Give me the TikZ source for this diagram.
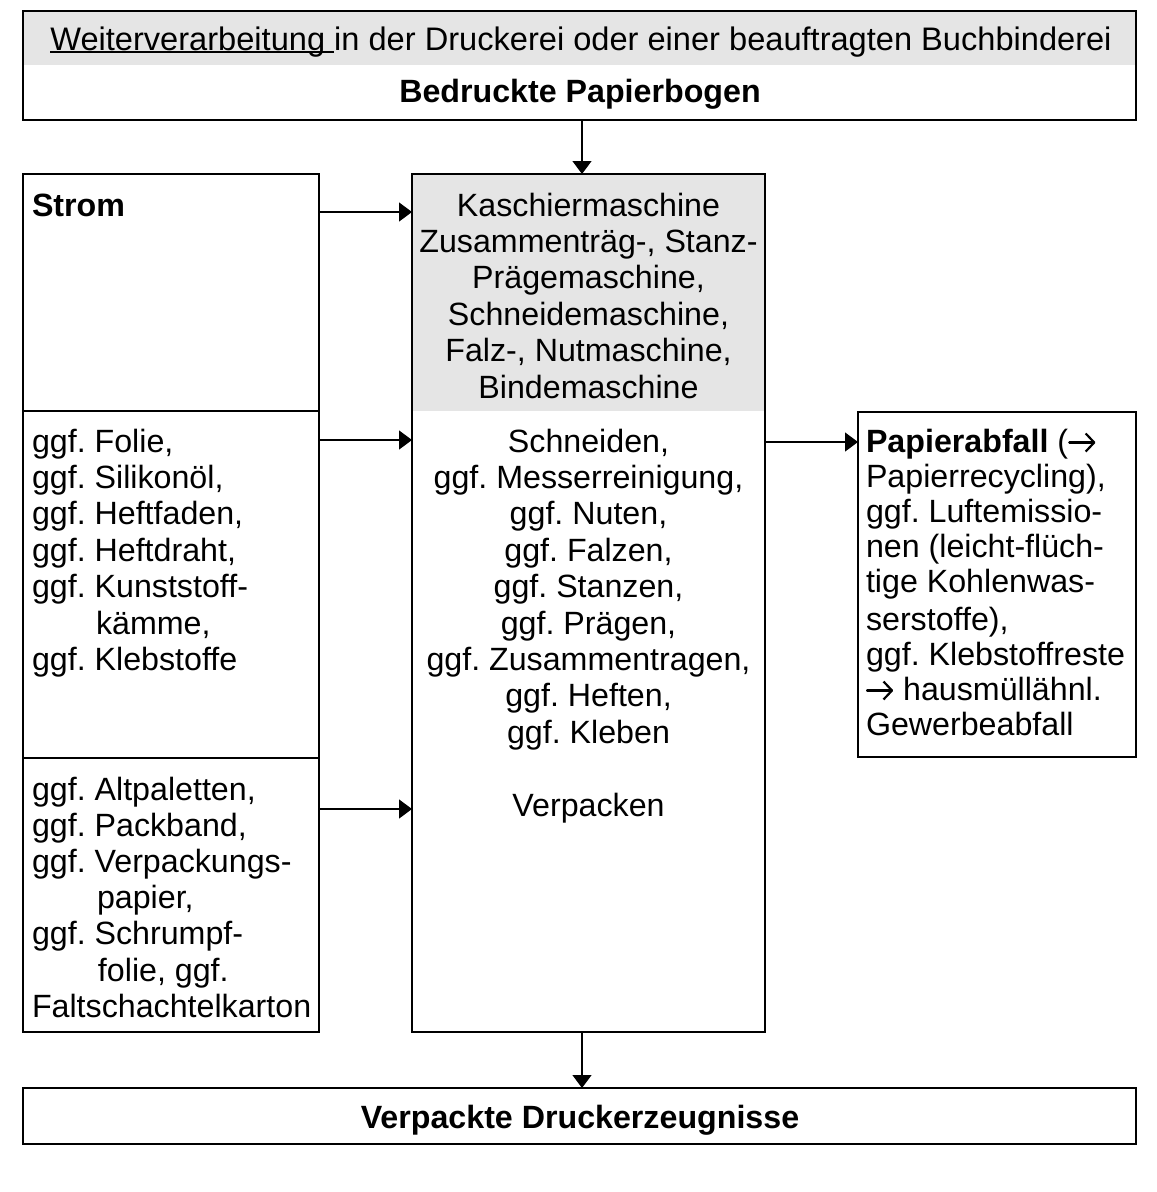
\documentclass[tikz,border=0pt]{standalone}
\usepackage{fontspec}
\setmainfont{Liberation Sans}
\usetikzlibrary{arrows.meta}
\definecolor{band}{gray}{0.898}
\newsavebox\leadword
% small inline arrow used inside the waste text
\newcommand\toarrow{\tikz[baseline=0pt]\draw[line width=2.2pt, line cap=round, -{Straight Barb[length=8.5pt,width=18pt,line join=round]}] (1pt,9.5pt) -- (27pt,9.5pt);}

\begin{document}
\frenchspacing
\begin{tikzpicture}[x=1pt,y=-1pt,
  box/.style={draw=black, line width=2.8pt, inner sep=0pt, outer sep=0pt, anchor=north west},
  shaded/.style={path picture={\fill[band] (path picture bounding box.north west) rectangle ([yshift=-#1]path picture bounding box.north east);}},
  flow/.style={line width=1.3pt, -{Triangle[length=13pt,width=19pt]}},
  txt/.style={inner sep=0pt, outer sep=0pt, font=\fontsize{32.2}{36.4}\selectfont},
  txtb/.style={txt, font=\fontsize{32.2}{36.4}\selectfont\bfseries},
]
\useasboundingbox (0,0) rectangle (1157,1192);
\fill[white] (0,0) rectangle (1157,1192);

% boxes
\node[box, shaded=54pt, minimum width=1113pt, minimum height=109pt] (top) at (23,11) {};
\node[box, minimum width=296pt, minimum height=237pt] (strom) at (23,174) {};
\node[box, minimum width=296pt, minimum height=347pt] (mat) at (23,411) {};
\node[box, minimum width=296pt, minimum height=274pt] (pack) at (23,758) {};
\node[box, shaded=237pt, minimum width=353pt, minimum height=858pt] (mid) at (412,174) {};
\node[box, minimum width=278pt, minimum height=345pt] (waste) at (858,412) {};
\node[box, minimum width=1113pt, minimum height=56pt] (out) at (23,1088) {};

% texts
\node[txt, anchor=base, font=\fontsize{32.6}{36.4}\selectfont] (head) at (581,50)
  {\sbox\leadword{Weiterverarbeitung }\rlap{\rule[-3.4pt]{\wd\leadword}{2.2pt}}\usebox\leadword in der Druckerei oder einer beauftragten Buchbinderei};
\node[txtb, anchor=base] (inlbl) at (580,102) {Bedruckte Papierbogen};
\node[txtb, anchor=base west] (stromlbl) at (32,216) {Strom};
\node[txt, anchor=base] (machines) at (588.5,216)
  {\begin{tabular}[t]{@{}c@{}}
   Kaschiermaschine\\
   Zusammenträg-, Stanz-\\
   Prägemaschine,\\
   Schneidemaschine,\\
   Falz-, Nutmaschine,\\
   Bindemaschine
   \end{tabular}};
\node[txt, anchor=base] (steps) at (588.5,452)
  {\begin{tabular}[t]{@{}c@{}}
   Schneiden,\\
   ggf. Messerreinigung,\\
   ggf. Nuten,\\
   ggf. Falzen,\\
   ggf. Stanzen,\\
   ggf. Prägen,\\
   ggf. Zusammentragen,\\
   ggf. Heften,\\
   ggf. Kleben\\
   \\
   Verpacken
   \end{tabular}};
\node[txt, anchor=base west] (matlbl) at (32,452)
  {\begin{tabular}[t]{@{}l@{}}
   ggf. Folie,\\
   ggf. Silikonöl,\\
   ggf. Heftfaden,\\
   ggf. Heftdraht,\\
   ggf. Kunststoff-\\
   \hspace*{64pt}kämme,\\
   ggf. Klebstoffe
   \end{tabular}};
\node[txt, anchor=base west, font=\fontsize{32.2}{36.2}\selectfont] (packlbl) at (32,800)
  {\begin{tabular}[t]{@{}l@{}}
   ggf. Altpaletten,\\
   ggf. Packband,\\
   ggf. Verpackungs-\\
   \hspace*{65pt}papier,\\
   ggf. Schrumpf-\\
   \hspace*{66pt}folie, ggf.\\
   Faltschachtelkarton
   \end{tabular}};
\node[txt, anchor=base west, font=\fontsize{32.2}{35}\selectfont] (wastelbl) at (866,452)
  {\begin{tabular}[t]{@{}l@{}}
   \textbf{Papierabfall} (\toarrow\\
   Papierrecycling),\\
   ggf. Luftemissio-\\
   nen (leicht-flüch-\\
   tige Kohlenwas-\\[3pt]
   serstoffe),\\
   ggf. Klebstoffreste\\
   \toarrow\ hausmüllähnl.\\
   Gewerbeabfall
   \end{tabular}};
\node[txtb, anchor=base] (outlbl) at (580,1128) {Verpackte Druckerzeugnisse};

% connectors
\coordinate (ta) at ([xshift=2.5pt]top.south);
\draw[flow] (ta) -- (ta |- mid.north);
\coordinate (sa) at ([yshift=-38pt]strom.north east);
\draw[flow] (sa) -- (sa -| mid.west);
\coordinate (ma) at ([yshift=-29pt]mat.north east);
\draw[flow] (ma) -- (ma -| mid.west);
\coordinate (pa) at ([yshift=-51pt]pack.north east);
\draw[flow] (pa) -- (pa -| mid.west);
\coordinate (wa) at ([yshift=-30pt]waste.north west);
\draw[flow] (wa -| mid.east) -- (wa);
\coordinate (ba) at ([xshift=-6.5pt]mid.south);
\draw[flow] (ba) -- (ba |- out.north);
\end{tikzpicture}
\end{document}
